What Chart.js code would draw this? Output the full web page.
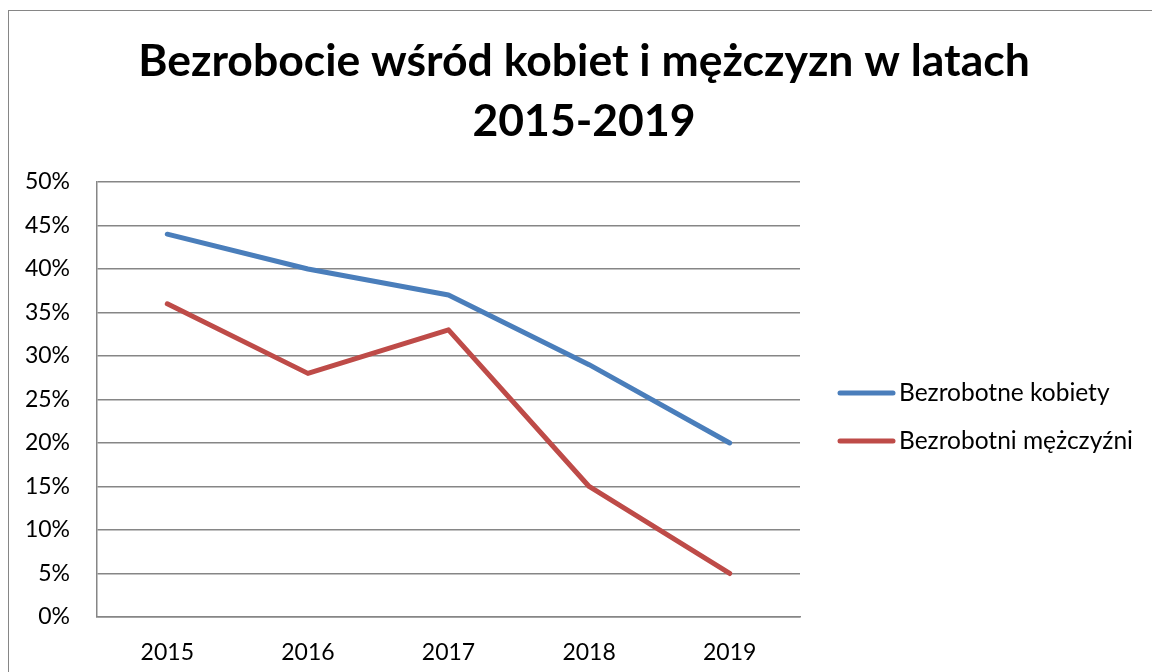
<!DOCTYPE html>
<html>
<head>
<meta charset="utf-8">
<script src="https://cdn.jsdelivr.net/npm/chart.js@4"></script>
<style>
  html, body { margin:0; padding:0; background:#fff; overflow:hidden; width:1152px; height:672px; }
  #wrap { position:absolute; left:8px; top:10px; width:1152px; height:672px; }
  #frame { position:absolute; left:8px; top:10px; width:1200px; height:700px; border-left:1px solid #868686; border-top:1px solid #868686; pointer-events:none; box-sizing:border-box; }
</style>
</head>
<body>
<div id="wrap"><canvas id="c" width="1152" height="672"></canvas></div>
<div id="frame"></div>
<script>
// ---------- data ----------
const years = ['2015', '2016', '2017', '2018', '2019'];
const kobiety = [44, 40, 37, 29, 20];
const mezczyzni = [36, 28, 33, 15, 5];
const seriesNames = ['Bezrobotne kobiety', 'Bezrobotni mężczyźni'];
const titleLines = ['Bezrobocie wśród kobiet i mężczyzn w latach', '2015-2019'];

const FONT = 'Lato, Calibri, "Open Sans", sans-serif';

/* legend drawn to the right of the plot, Excel style */
const sideLegend = {
  id: 'sideLegend',
  afterDraw(chart){
    const ctx = chart.ctx;
    const x0 = chart.chartArea.right + 40, y0 = 383, step = 48, len = 53;
    ctx.save();
    ctx.font = '24.5px ' + FONT;
    ctx.textBaseline = 'middle';
    chart.data.datasets.forEach((ds, i) => {
      const y = y0 + i*step;
      ctx.strokeStyle = ds.borderColor;
      ctx.lineWidth = 5;
      ctx.lineCap = 'round';
      ctx.beginPath(); ctx.moveTo(x0, y); ctx.lineTo(x0 + len, y); ctx.stroke();
      ctx.fillStyle = '#000';
      ctx.fillText(ds.label, x0 + len + 6, y);
    });
    ctx.restore();
  }
};

const ds = (label, data, color) => ({
  label, data,
  borderColor: color, backgroundColor: color,
  borderWidth: 5, pointRadius: 0, pointHoverRadius: 0,
  tension: 0, borderJoinStyle: 'round', borderCapStyle: 'round', fill: false
});

const tickFont = { family: FONT, size: 23 };

new Chart(document.getElementById('c'), {
  type: 'line',
  data: {
    labels: years,
    datasets: [
      ds(seriesNames[0], kobiety, '#4a7ebb'),
      ds(seriesNames[1], mezczyzni, '#be4b48')
    ]
  },
  options: {
    responsive: false,
    animation: false,
    layout: { padding: 0 },
    plugins: {
      legend: { display: false },
      tooltip: { enabled: false },
      title: {
        display: true,
        text: titleLines,
        color: '#000',
        font: { family: FONT, size: 44.5, weight: 'bold', lineHeight: 1.348 },
        padding: { top: 22, bottom: 30 }
      }
    },
    scales: {
      x: {
        offset: true,
        grid: { display: false, drawTicks: false },
        border: { display: true, color: '#868686', width: 1.5 },
        ticks: { color: '#000', padding: 22, font: tickFont, maxRotation: 0 },
        afterFit: s => { s.height = 65; }
      },
      y: {
        min: 0, max: 50,
        grid: { color: '#868686', lineWidth: 1.5, drawTicks: false },
        border: { display: true, color: '#868686', width: 1.5 },
        ticks: { stepSize: 5, color: '#000', padding: 27, font: tickFont, callback: v => v + '%' },
        afterFit: s => { s.width = 89; }
      },
      // empty right-hand box that keeps room for the legend
      side: {
        type: 'linear', position: 'right', display: true,
        grid: { display: false, drawTicks: false },
        border: { display: false },
        ticks: { display: false },
        afterFit: s => { s.width = 360; }
      }
    }
  },
  plugins: [sideLegend]
});
</script>
</body>
</html>
